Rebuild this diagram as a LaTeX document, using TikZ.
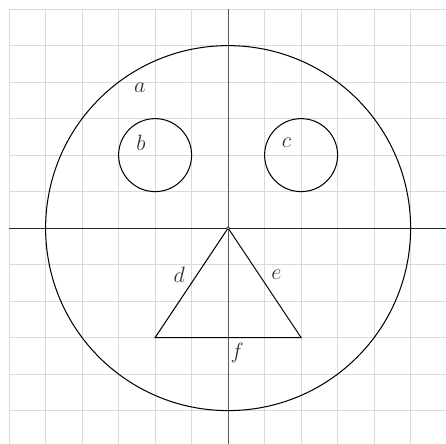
\documentclass[tikz,border=0pt]{standalone}
\usepackage{amsmath}
\usetikzlibrary{positioning}

\begin{document}
\begin{tikzpicture}[every node/.style={font=\LARGE,text=black!80}, curve/.style={line width=0.8pt}, gridline/.style={line width=0.6pt,black!15}]
\useasboundingbox (-6.25,-5.89) rectangle (5.97,6.25);
\draw[gridline] (-6,-6) grid (6,6);
\draw[line width=0.7pt,color={rgb,255:red,20;green,45;blue,55}] (-6,0)--(6,0);
\draw[line width=0.7pt,black!65] (0,6)--(0,-6);
\draw[curve] (0,0) circle (5);
\draw[curve] (-2,2) circle (1);
\draw[curve] (2,2) circle (1);
\coordinate (O) at (0,0);
\coordinate (L) at (-2,-3);
\coordinate (R) at (2,-3);
\draw[curve] (O)--(L)--(R)--cycle;
\draw[line width=0.4pt,fill=white] (O) circle (1.2pt);
\node (a) at (-2.42,3.84) {$a$};
\node (b) at (-2.39,2.33) {$b$};
\node (c) at (1.6,2.33) {$c$};
\node (d) at (-1.34,-1.29) {$d$};
\node (e) at (1.32,-1.29) {$e$};
\node (f) at (0.25,-3.42) {$f$};
\end{tikzpicture}
\end{document}
